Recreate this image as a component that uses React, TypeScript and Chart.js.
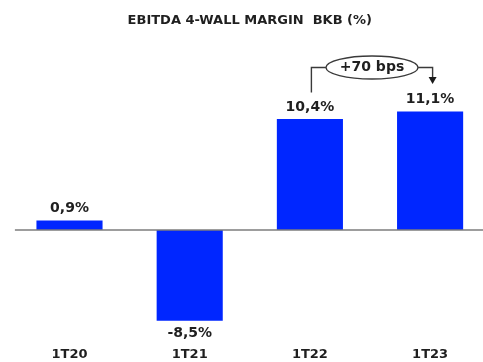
import React, { useEffect, useRef } from "react";
import { Chart, registerables } from "chart.js";

Chart.register(...registerables);

// Quarterly EBITDA 4-wall margin (%)
const categories = ["1T20", "1T21", "1T22", "1T23"];
const marginValues = [0.9, -8.5, 10.4, 11.1];
const axisRange = [-10, 18];
const titleText = "EBITDA 4-WALL MARGIN  BKB (%)";
const changeLabel = "+70 bps";

const FONT = "'DejaVu Sans', sans-serif";
const BAR_BLUE = "#0026ff";
const TEXT_DARK = "#1f1f1f";

const formatPct = (v: number) => v.toFixed(1).replace(".", ",") + "%";

// Zero baseline, value labels and the year-over-year change callout
const overlayPlugin = {
  id: "overlay",
  afterDatasetsDraw(chart: any) {
    const { ctx, chartArea, scales } = chart;
    const meta = chart.getDatasetMeta(0);
    const zeroY = scales.y.getPixelForValue(0);

    ctx.save();
    // baseline
    ctx.strokeStyle = "#7d7d7d";
    ctx.lineWidth = 1.5;
    ctx.beginPath();
    ctx.moveTo(chartArea.left + 5.5, zeroY);
    ctx.lineTo(chartArea.right, zeroY);
    ctx.stroke();

    // value labels
    ctx.fillStyle = TEXT_DARK;
    ctx.font = `bold 14px ${FONT}`;
    ctx.textAlign = "center";
    ctx.textBaseline = "middle";
    meta.data.forEach((bar: any, i: number) => {
      const v = marginValues[i];
      const y = v >= 0 ? bar.y - 12 : bar.y + 13;
      ctx.fillText(formatPct(v), bar.x, y);
    });

    // change callout between the last two bars
    const from = meta.data[2];
    const to = meta.data[3];
    const leftX = from.x + 1.5;
    const rightX = to.x + 2.5;
    const midY = to.y - 44;
    const startY = from.y - 26.5;
    const tipY = to.y - 27.5;
    const cx = (leftX + rightX) / 2;
    const rx = 46;
    const ry = 11.5;

    ctx.strokeStyle = "#3a3a3a";
    ctx.lineWidth = 1.4;
    ctx.beginPath();
    ctx.moveTo(leftX, startY);
    ctx.lineTo(leftX, midY);
    ctx.lineTo(cx - rx, midY);
    ctx.stroke();

    ctx.beginPath();
    ctx.moveTo(cx + rx, midY);
    ctx.lineTo(rightX, midY);
    ctx.lineTo(rightX, tipY - 6);
    ctx.stroke();

    ctx.fillStyle = "#1a1a1a";
    ctx.beginPath();
    ctx.moveTo(rightX - 4, tipY - 7);
    ctx.lineTo(rightX + 4, tipY - 7);
    ctx.lineTo(rightX, tipY);
    ctx.closePath();
    ctx.fill();

    ctx.beginPath();
    ctx.ellipse(cx, midY, rx, ry, 0, 0, Math.PI * 2);
    ctx.fillStyle = "#ffffff";
    ctx.fill();
    ctx.stroke();

    ctx.fillStyle = TEXT_DARK;
    ctx.font = `bold 14px ${FONT}`;
    ctx.fillText(changeLabel, cx, midY);
    ctx.restore();
  },
};

export default function App() {
  const canvasRef = useRef<HTMLCanvasElement | null>(null);

  useEffect(() => {
    if (!canvasRef.current) return;
    const chart = new Chart(canvasRef.current, {
      type: "bar",
      data: {
        labels: categories,
        datasets: [
          {
            data: marginValues,
            backgroundColor: BAR_BLUE,
            borderWidth: 0,
            categoryPercentage: 1,
            barPercentage: 0.55,
          },
        ],
      },
      options: {
        responsive: false,
        animation: false,
        devicePixelRatio: 1,
        layout: { padding: { left: 9.4, right: 9.8, top: 0, bottom: 0 } },
        plugins: {
          legend: { display: false },
          tooltip: { enabled: false },
          title: {
            display: true,
            text: titleText,
            color: TEXT_DARK,
            font: { family: FONT, size: 13, weight: "bold" },
            padding: { top: 13, bottom: 9.3 },
          },
        },
        scales: {
          x: {
            grid: { display: false, drawTicks: false },
            border: { display: false },
            ticks: {
              color: TEXT_DARK,
              font: { family: FONT, size: 13, weight: "bold" },
              padding: 10.5,
            },
            afterFit(scale: any) {
              scale.height = 25.3;
            },
          },
          y: {
            display: false,
            min: axisRange[0],
            max: axisRange[1],
          },
        },
      },
      plugins: [overlayPlugin],
    });
    return () => chart.destroy();
  }, []);

  return (
    <div
      style={{
        position: "absolute",
        left: 0,
        top: 0,
        width: 483,
        height: 362,
        overflow: "hidden",
        background: "#ffffff",
      }}
    >
      <canvas
        ref={canvasRef}
        width={500}
        height={362}
        style={{ display: "block", width: 500, height: 362 }}
      />
    </div>
  );
}
